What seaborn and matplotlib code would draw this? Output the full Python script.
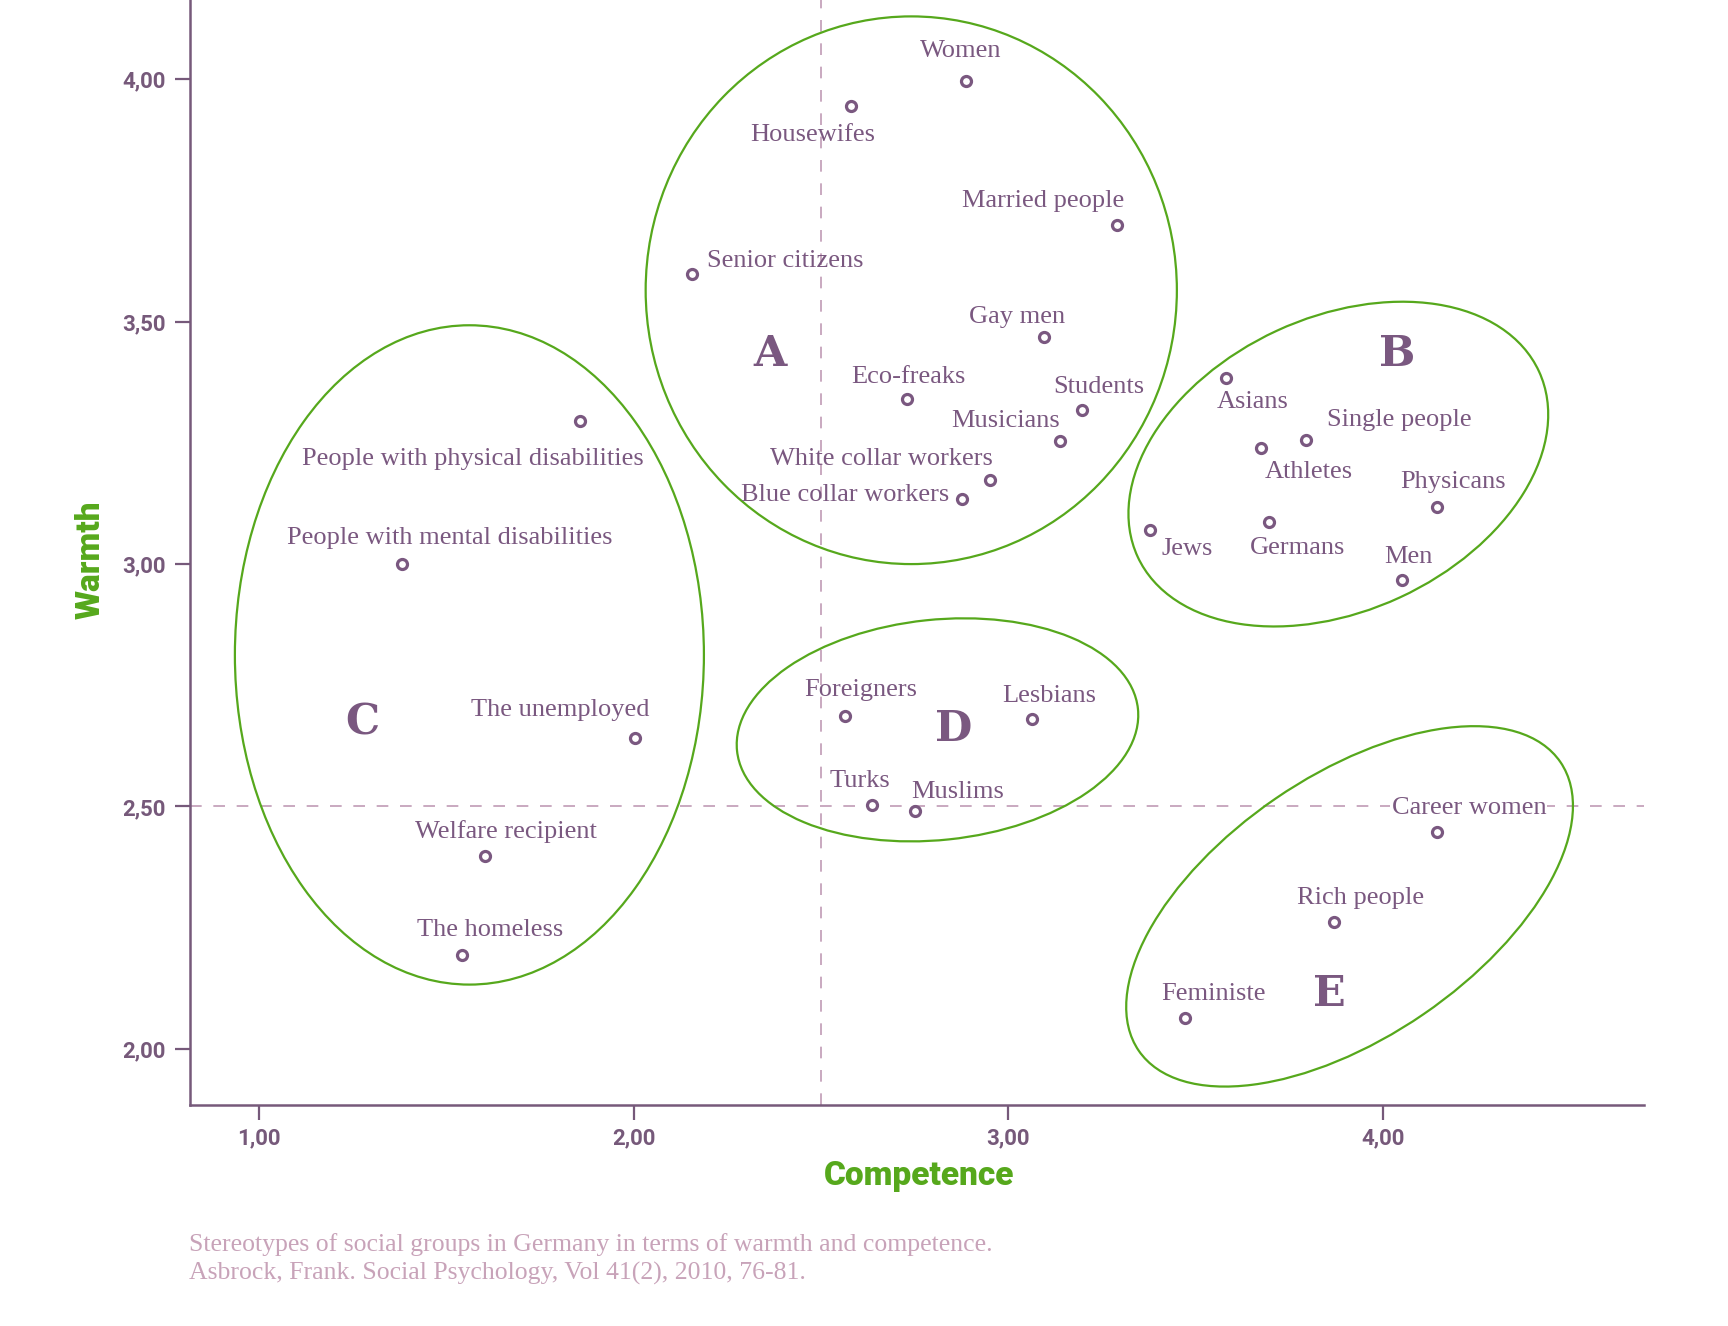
import numpy as np
import pandas as pd
import matplotlib
matplotlib.use("Agg")
import matplotlib.pyplot as plt
import matplotlib.transforms as mtransforms
from matplotlib.patches import Ellipse
import seaborn as sns

# ── DATA │ group means ───────────────────────────────────────────────
groups = [
    "Women", "Housewifes", "Married people", "Senior citizens", "Gay men",
    "Eco-freaks", "Students", "Musicians", "White collar workers",
    "Blue collar workers", "People with physical disabilities",
    "People with mental disabilities", "The unemployed", "Welfare recipient",
    "The homeless", "Asians", "Single people", "Athletes", "Physicans",
    "Jews", "Germans", "Men", "Foreigners", "Lesbians", "Turks", "Muslims",
    "Career women", "Rich people", "Feministe",
]
competence = [
    2.887, 2.580, 3.290, 2.157, 3.094,
    2.729, 3.197, 3.137, 2.951,
    2.876, 1.856,
    1.382, 2.004, 1.603,
    1.541, 3.582, 3.794, 3.675, 4.144,
    3.378, 3.696, 4.050, 2.563, 3.062, 2.637, 2.751,
    4.144, 3.870, 3.473,
]
warmth = [
    3.997, 3.945, 3.700, 3.598, 3.468,
    3.341, 3.317, 3.254, 3.173,
    3.134, 3.295,
    3.000, 2.641, 2.397,
    2.194, 3.384, 3.255, 3.240, 3.118,
    3.070, 3.086, 2.968, 2.686, 2.680, 2.504, 2.490,
    2.448, 2.261, 2.063,
]

# clusters: centre, semi-axes (in competence units), rotation in degrees
cluster_names = ["A", "B", "C", "D", "E"]
cluster_cx = [2.741, 3.881, 1.5615, 2.811, 3.911]
cluster_cy = [3.5645, 3.206, 2.8125, 2.658, 2.294]
cluster_a = [0.709, 0.590, 0.626, 0.538, 0.682]
cluster_b = [0.731, 0.392, 0.880, 0.294, 0.349]
cluster_angle = [0, 24.8, 0, 6, 34.4]
letter_x = [2.364, 4.038, 1.275, 2.854, 3.856]
letter_y = [3.432, 3.432, 2.674, 2.659, 2.113]

x_ticks = [1.0, 2.0, 3.0, 4.0]
y_ticks = [2.0, 2.5, 3.0, 3.5, 4.0]
mid_competence = 2.5
mid_warmth = 2.5

footnote = [
    "Stereotypes of social groups in Germany in terms of warmth and competence.",
    "Asbrock, Frank. Social Psychology, Vol 41(2), 2010, 76-81.",
]

df = pd.DataFrame({"group": groups, "competence": competence, "warmth": warmth})

# label placement: (alignment, dx px, dy px downwards) from the point
label_pos = {
    "Women": ("center", -5, -30),
    "Housewifes": ("center", -38, 29),
    "Married people": ("right", 7, -24),
    "Senior citizens": ("left", 15, -13),
    "Gay men": ("center", -26, -20),
    "Eco-freaks": ("center", 2, -22),
    "Students": ("center", 17, -23),
    "Musicians": ("right", 0, -20),
    "White collar workers": ("right", 3, -21),
    "Blue collar workers": ("right", -13, -4),
    "People with physical disabilities": ("center", -107, 38),
    "People with mental disabilities": ("center", 48, -26),
    "The unemployed": ("center", -75, -28),
    "Welfare recipient": ("center", 21, -25),
    "The homeless": ("center", 28, -25),
    "Asians": ("center", 26, 24),
    "Single people": ("left", 21, -20),
    "Athletes": ("left", 4, 24),
    "Physicans": ("center", 16, -25),
    "Jews": ("left", 12, 19),
    "Germans": ("center", 29, 26),
    "Men": ("center", 7, -23),
    "Foreigners": ("center", 16, -26),
    "Lesbians": ("center", 18, -23),
    "Turks": ("center", -12, -24),
    "Muslims": ("left", -4, -19),
    "Career women": ("center", 32, -24),
    "Rich people": ("center", 26, -24),
    "Feministe": ("center", 28, -24),
}

# ── STYLE ────────────────────────────────────────────────────────────
PURPLE = "#7a5880"
AXIS = "#76597a"
GREEN = "#56a81c"
DASH = "#c9a9c0"
NOTE = "#c8a3b9"

sns.set_theme(style="ticks")
plt.rcParams["font.family"] = ["Liberation Serif", "DejaVu Serif"]

W, H, DPI = 1728, 1326, 100
fig = plt.figure(figsize=(W / DPI, H / DPI), dpi=DPI)
ax = fig.add_axes([0.1097, 0.1667, 0.8417, 0.8333])
ax.set_xlim(0.8145, 4.697)
ax.set_ylim(1.8845, 4.163)

# y/x pixel ratio so the ellipses can be drawn in an isotropic frame
pos = ax.get_position()
px_x = pos.width * W / (ax.get_xlim()[1] - ax.get_xlim()[0])
px_y = pos.height * H / (ax.get_ylim()[1] - ax.get_ylim()[0])
ratio = px_y / px_x

# reference lines
ax.axvline(mid_competence, color=DASH, lw=1.4, dashes=(6, 6), zorder=1)
ax.axhline(mid_warmth, color=DASH, lw=1.4, dashes=(6, 6), zorder=1)

# cluster ellipses and letters
for name, cx, cy, a, b, ang, lx, ly in zip(cluster_names, cluster_cx, cluster_cy,
                                            cluster_a, cluster_b, cluster_angle,
                                            letter_x, letter_y):
    tr = mtransforms.Affine2D().scale(1, 1 / ratio).translate(cx, cy) + ax.transData
    ax.add_patch(Ellipse((0, 0), 2 * a, 2 * b, angle=ang, fill=False,
                         edgecolor=GREEN, lw=1.6, transform=tr, zorder=2))
    ax.text(lx, ly, name, ha="center", va="center", fontsize=31,
            fontweight="bold", family="DejaVu Serif", color=PURPLE, zorder=4)

# points
sns.scatterplot(data=df, x="competence", y="warmth", ax=ax, s=52,
                color="white", edgecolor=PURPLE, linewidth=2.3, zorder=5,
                legend=False)

# labels
for g, x, y in zip(df["group"], df["competence"], df["warmth"]):
    ha, dx, dy = label_pos[g]
    kw = {}
    if g == "Career women":
        kw["bbox"] = dict(boxstyle="square,pad=0.05", fc="white", ec="none")
    ax.annotate(g, (x, y), xytext=(dx * 0.72, -dy * 0.72),
                textcoords="offset points", ha=ha, va="center",
                fontsize=19, color=PURPLE, zorder=6, **kw)

# axes
sns.despine(ax=ax)
for side in ["left", "bottom"]:
    ax.spines[side].set_color(AXIS)
    ax.spines[side].set_linewidth(1.8)
ax.set_xticks(x_ticks)
ax.set_yticks(y_ticks)
ax.set_xticklabels([f"{v:.2f}".replace(".", ",") for v in x_ticks])
ax.set_yticklabels([f"{v:.2f}".replace(".", ",") for v in y_ticks])
ax.tick_params(axis="both", length=11, width=1.6, color=AXIS,
               labelcolor=AXIS, labelsize=16)
ax.tick_params(axis="y", pad=6)
ax.tick_params(axis="x", pad=5)
for lab in ax.get_xticklabels() + ax.get_yticklabels():
    lab.set_family("Roboto")
    lab.set_fontweight("bold")

ax.set_xlabel("")
ax.set_ylabel("")
fig.text(919 / W, 1 - 1176 / H, "Competence", ha="center", va="center",
         fontsize=24, fontweight="heavy", family="Roboto", color=GREEN)
fig.text(91 / W, 1 - 560 / H, "Warmth", ha="center", va="center",
         rotation=90, fontsize=24, fontweight="heavy", family="Roboto",
         color=GREEN)

for i, line in enumerate(footnote):
    fig.text(189 / W, 1 - (1245 + 28.5 * i) / H, line, ha="left",
             va="center", fontsize=18.5, color=NOTE)

fig.savefig("out.png", dpi=DPI, facecolor="white")
